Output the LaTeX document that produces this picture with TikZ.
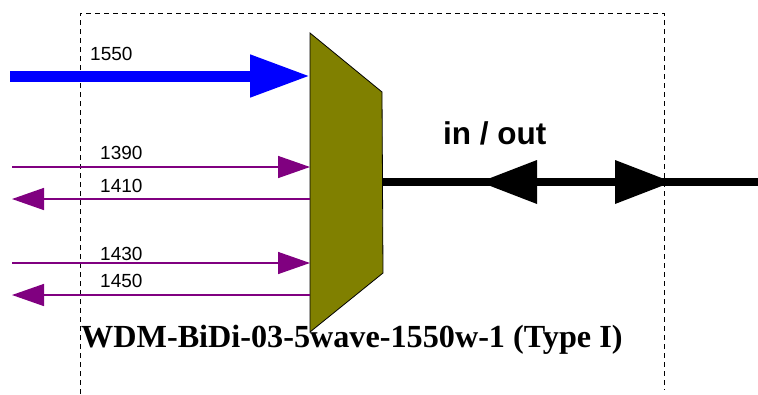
\documentclass[tikz,border=0pt]{standalone}
\usepackage{fontspec}
\setmainfont{Liberation Serif}
\setsansfont{Liberation Sans}
\usetikzlibrary{arrows.meta}
\definecolor{mypurple}{HTML}{800080}
\definecolor{myblue}{HTML}{0000FF}
\definecolor{myolive}{HTML}{808000}
\tikzset{
  lbl/.style={font=\sffamily\fontsize{19}{19}\selectfont, anchor=base west, inner sep=0pt},
  thin arrow/.style={draw=mypurple, line width=1.5pt, -{Triangle[length=32pt,width=22pt]}, mypurple},
  frame/.style={draw=black, line width=0.9pt, dash pattern=on 5pt off 4pt},
  headfill/.style={fill=black, draw=none},
}
\begin{document}
\begin{tikzpicture}[x=1pt,y=-1pt]
\useasboundingbox (0,0) rectangle (758,394);
% frame
\draw[frame] (80,394) -- (80,13) -- (664,13) -- (664,390);
% mux
\coordinate (m1) at (310,33);
\coordinate (m2) at (382,92);
\coordinate (m3) at (383,273);
\coordinate (m4) at (310,332);
\draw[fill=myolive, line width=0.8pt] (m1) -- (m2) -- (m3) -- (m4) -- cycle;
% ports
\coordinate (b0) at (10,76);   \coordinate (b1) at (310,76);
\coordinate (p1a) at (12,167); \coordinate (p1b) at (310,167);
\coordinate (p2a) at (12,199); \coordinate (p2b) at (310,199);
\coordinate (p3a) at (12,263); \coordinate (p3b) at (310,263);
\coordinate (p4a) at (12,295); \coordinate (p4b) at (310,295);
\draw[draw=myblue, fill=myblue, line width=11pt, -{Triangle[length=60pt,width=40pt]}] (b0) -- (b1);
\draw[thin arrow] (p1a) -- (p1b);
\draw[thin arrow] (p2b) -- (p2a);
\draw[thin arrow] (p3a) -- (p3b);
\draw[thin arrow] (p4b) -- (p4a);
\node[lbl] (l1550) at (90,60) {1550};
\node[lbl] (l1390) at (100,159) {1390};
\node[lbl] (l1410) at (100,192) {1410};
\node[lbl] (l1430) at (100,260) {1430};
\node[lbl] (l1450) at (100,287) {1450};
% in/out fiber
\coordinate (o0) at (383,182);
\coordinate (o1) at (758,182);
\draw[line width=7.5pt] (o0) -- (o1);
\fill[headfill] (480,182) -- (537,160) -- (537,204) -- cycle;
\fill[headfill] (672,182) -- (615,160) -- (615,204) -- cycle;
\node[font=\sffamily\bfseries\fontsize{31.5}{31.5}\selectfont, anchor=base west, inner sep=0pt] (io) at (443,144) {in / out};
\node[font=\bfseries\fontsize{32.2}{32.2}\selectfont, anchor=base west, inner sep=0pt] (title) at (81,347) {WDM-BiDi-03-5wave-1550w-1 (Type I)};
\end{tikzpicture}
\end{document}
